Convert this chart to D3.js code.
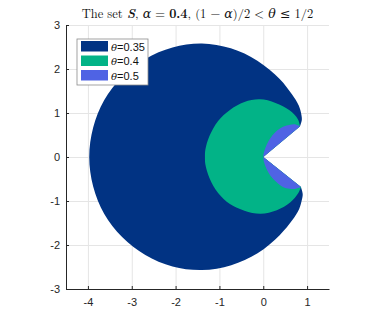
<!DOCTYPE html>
<html>
<head>
<meta charset="utf-8">
<script src="https://cdn.jsdelivr.net/npm/d3@7"></script>
<style>
  body { margin: 0; background: #fff; }
  svg { display: block; }
  .tick text { font-family: "Liberation Sans", Arial, sans-serif; font-size: 11px; fill: #262626; }
</style>
</head>
<body>
<svg width="382" height="324"></svg>
<script>
// legend values
let thetas = [0.35, 0.4, 0.5],
    colors = ['#013383', '#02b387', '#4f63e4'],
    xTicks = [-4, -3, -2, -1, 0, 1],
    yTicks = [-3, -2, -1, 0, 1, 2, 3];

// boundary of each set, from upper cusp round to lower cusp
let edge035 = [
    [0.84, 0.70], [0.88, 0.84], [0.87, 0.96], [0.81, 1.17], [0.65, 1.43], [0.375, 1.775],
    [-0.135, 2.19], [-0.74, 2.47], [-1.40, 2.58], [-2.07, 2.49], [-2.69, 2.23],
    [-3.22, 1.82], [-3.63, 1.29], [-3.88, 0.67], [-3.97, 0.00], [-3.88, -0.67], [-3.63, -1.29],
    [-3.22, -1.82], [-2.69, -2.23], [-2.07, -2.49], [-1.40, -2.57], [-0.73, -2.46], [-0.13, -2.19],
    [0.38, -1.77], [0.66, -1.44], [0.82, -1.18], [0.88, -0.98], [0.90, -0.84], [0.86, -0.68]
];
let edge04 = [
    [0.84, 0.70], [0.79, 0.86], [0.60, 1.06], [0.28, 1.23], [-0.08, 1.31], [-0.43, 1.25],
    [-0.76, 1.07], [-1.03, 0.82], [-1.23, 0.47], [-1.32, 0.17], [-1.33, 0.00], [-1.32, -0.17],
    [-1.23, -0.47], [-1.03, -0.82], [-0.76, -1.07], [-0.43, -1.22], [-0.06, -1.29], [0.31, -1.21],
    [0.62, -1.03], [0.80, -0.82], [0.86, -0.68]
];
let edge05 = [
    [0.84, 0.70], [0.74, 0.74], [0.59, 0.73], [0.44, 0.68], [0.28, 0.57], [0.15, 0.41],
    [0.05, 0.21], [0.00, 0.00], [0.05, -0.21], [0.16, -0.42], [0.30, -0.57], [0.45, -0.68],
    [0.60, -0.72], [0.74, -0.72], [0.86, -0.68]
];
let edges = [edge035, edge04, edge05];

let margin = {left: 66, top: 25, right: 53, bottom: 35},
    width = 382 - margin.left - margin.right,
    height = 324 - margin.top - margin.bottom;

let xScale = d3.scaleLinear().domain([-4.5, 1.5]).range([0, width]),
    yScale = d3.scaleLinear().domain([-3, 3]).range([height, 0]);

let svg = d3.select('svg');
let chart = svg.append('g')
    .attr('transform', `translate(${margin.left},${margin.top})`);

// grid
chart.append('g')
    .attr('transform', `translate(0,${height})`)
    .call(d3.axisBottom(xScale).tickValues(xTicks).tickSize(-height).tickFormat(''))
    .call(g => g.select('.domain').remove())
    .selectAll('line').attr('stroke', '#e5e5e5');
chart.append('g')
    .call(d3.axisLeft(yScale).tickValues(yTicks).tickSize(-width).tickFormat(''))
    .call(g => g.select('.domain').remove())
    .selectAll('line').attr('stroke', '#e5e5e5');

// sets: smooth outer edge, then straight back to the origin (the notch)
let edgeLine = d3.line()
    .x(d => xScale(d[0]))
    .y(d => yScale(d[1]))
    .curve(d3.curveCatmullRom.alpha(0.5));

chart.selectAll('path.set')
    .data(edges)
    .enter()
    .append('path')
    .attr('class', 'set')
    .attr('d', d => edgeLine(d) + `L${xScale(0)},${yScale(0)}Z`)
    .attr('fill', (d, i) => colors[i]);

// axes
let xAxis = chart.append('g')
    .attr('transform', `translate(0,${height})`)
    .call(d3.axisBottom(xScale).tickValues(xTicks).tickSizeInner(-3).tickSizeOuter(0).tickPadding(9)
        .tickFormat(d => d));
let yAxis = chart.append('g')
    .call(d3.axisLeft(yScale).tickValues(yTicks).tickSizeInner(-3).tickSizeOuter(0).tickPadding(6)
        .tickFormat(d => d));
[xAxis, yAxis].forEach(a => {
    a.select('.domain').attr('stroke', '#262626');
    a.selectAll('line').attr('stroke', '#262626');
});

// title
let title = svg.append('text')
    .attr('x', margin.left + width / 2)
    .attr('y', 18)
    .attr('text-anchor', 'middle')
    .style('font-family', '"Latin Modern Roman", "DejaVu Serif", serif')
    .style('font-size', '12.5px')
    .style('fill', '#111');
title.append('tspan').text('The set ');
title.append('tspan').style('font-weight', 'bold').style('font-style', 'italic').text('S');
title.append('tspan').text(', ');
title.append('tspan').style('font-style', 'italic').text('α');
title.append('tspan').text(' = ');
title.append('tspan').style('font-weight', 'bold').text('0.4');
title.append('tspan').text(', (1 − ');
title.append('tspan').style('font-style', 'italic').text('α');
title.append('tspan').text(')/2 < ');
title.append('tspan').style('font-style', 'italic').text('θ');
title.append('tspan').text(' ≤ 1/2');

// legend
let legend = svg.append('g').attr('transform', 'translate(77,39)');
legend.append('rect')
    .attr('width', 71).attr('height', 46)
    .attr('fill', '#fff').attr('stroke', '#8c8c8c').attr('stroke-width', 0.8);
let items = legend.selectAll('.legend')
    .data(thetas)
    .enter()
    .append('g')
    .attr('class', 'legend')
    .attr('transform', (d, i) => `translate(4,${2 + i * 14.5})`);
items.append('rect')
    .attr('width', 27).attr('height', 10.5)
    .attr('fill', (d, i) => colors[i]);
let labels = items.append('text')
    .attr('x', 30).attr('y', 9.5)
    .style('font-family', '"Liberation Sans", Arial, sans-serif')
    .style('font-size', '11px')
    .style('fill', '#111');
labels.append('tspan')
    .style('font-family', '"DejaVu Serif", serif').style('font-style', 'italic').style('font-size', '10px')
    .text('θ');
labels.append('tspan').text(d => '=' + d);
</script>
</body>
</html>
